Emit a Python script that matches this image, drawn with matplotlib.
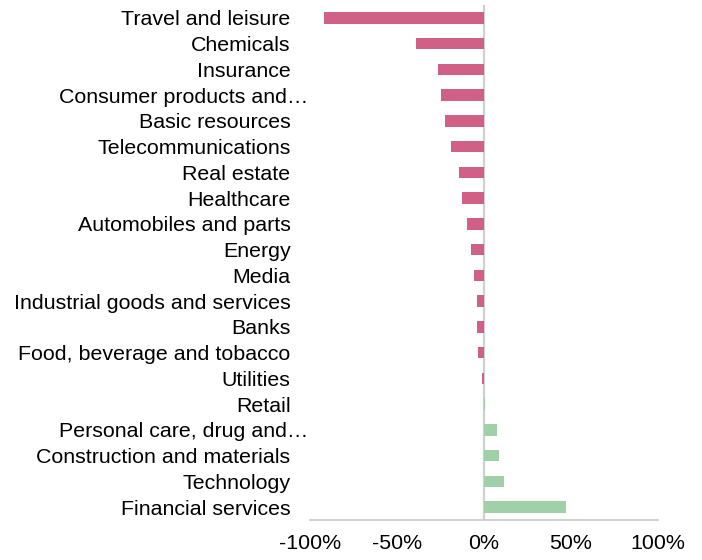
import matplotlib as mpl
mpl.use("Agg")
import matplotlib.pyplot as plt
from matplotlib.ticker import FuncFormatter
from matplotlib.transforms import ScaledTranslation

plt.rcParams['font.family'] = ['Liberation Sans', 'DejaVu Sans']

# sector performance, top to bottom
sectors = ["Travel and leisure", "Chemicals", "Insurance", "Consumer products and\u2026",
           "Basic resources", "Telecommunications", "Real estate", "Healthcare",
           "Automobiles and parts", "Energy", "Media", "Industrial goods and services",
           "Banks", "Food, beverage and tobacco", "Utilities", "Retail",
           "Personal care, drug and\u2026", "Construction and materials", "Technology",
           "Financial services"]
change = [-91.7, -38.8, -26.7, -25.0, -22.7, -18.7, -14.1, -12.8, -10.0, -7.2,
          -6.0, -4.3, -4.3, -3.2, -0.9, 0.8, 7.5, 8.4, 11.6, 47.0]

neg_color = "#D06085"
pos_color = "#9FD0A8"
fs = 15.4
pad = 14

fig = plt.figure(figsize=(7.02, 5.6), dpi=100)
ax = fig.add_axes([310/702, 40/560, 348/702, 515/560])

ypos = list(range(len(sectors)))
colors = [neg_color if v < 0 else pos_color for v in change]
ax.barh(ypos, change, height=0.44, color=colors, zorder=3)

ax.set_ylim(len(sectors) - 0.5, -0.5)
ax.set_xlim(-100, 100)
ax.set_xticks([-100, -50, 0, 50, 100])
ax.xaxis.set_major_formatter(FuncFormatter(lambda v, p: f"{v:.0f}%"))
ax.set_yticks(ypos)

# truncated labels get drawn separately so the ellipsis hangs past the column
ax.set_yticklabels(["" if s.endswith("\u2026") else s for s in sectors])
off = ScaledTranslation((-pad * 100 / 72 + 18) / 100, 0, fig.dpi_scale_trans)
for y, s in zip(ypos, sectors):
    if s.endswith("\u2026"):
        ax.text(0, y, s, transform=ax.get_yaxis_transform() + off,
                ha="right", va="center_baseline", fontsize=fs)

ax.axvline(0, color="#D0D0D0", linewidth=1.6, zorder=2)

for s in ["top", "right", "left"]:
    ax.spines[s].set_visible(False)
ax.spines["bottom"].set_color("#C8C8C8")
ax.spines["bottom"].set_linewidth(1.2)

ax.tick_params(axis="y", length=0, pad=pad, labelsize=fs)
ax.tick_params(axis="x", length=0, pad=10, labelsize=fs)

fig.savefig("out.png", dpi=100)
